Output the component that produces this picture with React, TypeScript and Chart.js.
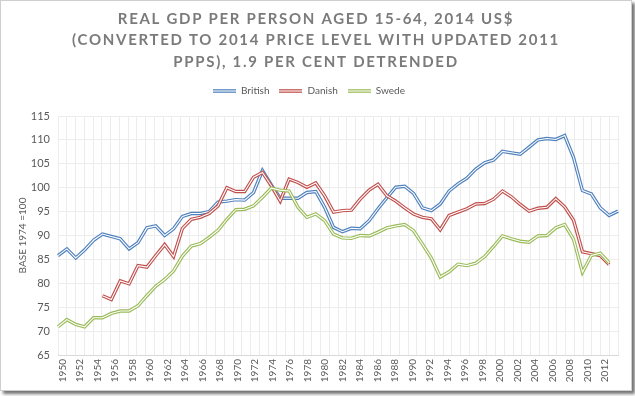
import React, { useEffect, useRef } from "react";
import { Chart, registerables } from "chart.js";

Chart.register(...registerables);

const years: string[] = [];
for (let y = 1950; y <= 2013; y++) years.push(String(y));

const titleLines = [
  "REAL GDP PER PERSON AGED 15-64, 2014 US$",
  "(CONVERTED TO 2014 PRICE LEVEL WITH UPDATED 2011",
  "PPPS), 1.9 PER CENT DETRENDED",
];

const seriesNames = ["British", "Danish", "Swede"];
const seriesColors = ["#4F81BD", "#C0504D", "#9BBB59"];

const british: (number | null)[] = [
  85.8, 87.2, 85.3, 87.0, 89.0, 90.3, 89.8, 89.3, 87.2, 88.5,
  91.6, 92.0, 90.0, 91.4, 94.0, 94.6, 94.6, 95.0, 97.0, 97.2,
  97.5, 97.4, 99.0, 103.6, 100.6, 97.8, 97.8, 97.8, 99.0, 99.2,
  95.9, 91.7, 90.8, 91.5, 91.4, 93.1, 95.6, 97.9, 100.1, 100.3,
  98.8, 95.8, 95.2, 96.6, 99.3, 100.8, 102.0, 103.9, 105.2, 105.8,
  107.6, 107.3, 107.0, 108.5, 110.0, 110.3, 110.1, 110.9, 106.3, 99.4,
  98.7, 95.8, 94.2, 95.1,
];

const danish: (number | null)[] = [
  null, null, null, null, null, 77.4, 76.6, 80.5, 79.9, 83.7,
  83.4, 85.8, 88.1, 85.6, 91.5, 93.4, 93.8, 94.6, 96.2, 100.0,
  99.2, 99.2, 102.2, 103.2, 100.4, 97.2, 101.8, 101.1, 100.1, 101.0,
  98.3, 94.9, 95.2, 95.3, 97.6, 99.5, 100.7, 98.3, 97.2, 95.8,
  94.5, 93.8, 93.5, 91.2, 94.2, 94.9, 95.6, 96.6, 96.7, 97.6,
  99.3, 98.1, 96.5, 95.1, 95.7, 95.9, 97.7, 96.0, 93.2, 86.6,
  86.2, 85.8, 83.9, null,
];

const swede: (number | null)[] = [
  70.9, 72.4, 71.4, 70.9, 72.8, 72.8, 73.7, 74.2, 74.2, 75.3,
  77.4, 79.4, 80.8, 82.6, 85.7, 87.8, 88.3, 89.6, 91.1, 93.4,
  95.4, 95.5, 96.2, 98.0, 99.9, 99.5, 99.3, 95.9, 93.8, 94.5,
  93.1, 90.3, 89.5, 89.4, 90.0, 89.9, 90.7, 91.6, 92.0, 92.3,
  91.0, 88.2, 85.3, 81.3, 82.4, 84.0, 83.7, 84.2, 85.6, 87.7,
  89.9, 89.3, 88.8, 88.6, 89.9, 90.0, 91.6, 92.3, 89.2, 82.3,
  85.8, 86.3, 84.3, null,
];

const yAxisTitle = "BASE 1974 =100";

const FONT = "Lato, 'Open Sans', sans-serif";
const TEXT = "#595959";

function legendSymbol(color: string): HTMLCanvasElement {
  const c = document.createElement("canvas");
  c.width = 23;
  c.height = 6;
  const g = c.getContext("2d")!;
  g.strokeStyle = color;
  g.lineWidth = 3.6;
  g.beginPath();
  g.moveTo(0, 3);
  g.lineTo(23, 3);
  g.stroke();
  g.strokeStyle = "#ffffff";
  g.lineWidth = 1.1;
  g.beginPath();
  g.moveTo(0, 3);
  g.lineTo(23, 3);
  g.stroke();
  return c;
}

export default function App() {
  const ref = useRef<HTMLCanvasElement | null>(null);

  useEffect(() => {
    if (!ref.current) return;
    const all = [british, danish, swede];
    const datasets: any[] = [];
    all.forEach((d, i) => {
      datasets.push({
        label: seriesNames[i],
        data: d,
        borderColor: seriesColors[i],
        backgroundColor: seriesColors[i],
        borderWidth: 3.4,
        pointRadius: 0,
        tension: 0,
        spanGaps: false,
        order: 10 - i * 2,
      });
      datasets.push({
        label: seriesNames[i] + "_inner",
        data: d,
        borderColor: "#ffffff",
        borderWidth: 1.1,
        pointRadius: 0,
        tension: 0,
        spanGaps: false,
        order: 9 - i * 2,
      });
    });

    const titlePlugin = {
      id: "spacedTitle",
      afterDraw(chart: any) {
        const ctx = chart.ctx as CanvasRenderingContext2D;
        ctx.save();
        ctx.font = `bold 15px ${FONT}`;
        (ctx as any).letterSpacing = "1.7px";
        ctx.fillStyle = "#7b7b7b";
        ctx.textAlign = "center";
        ctx.textBaseline = "middle";
        titleLines.forEach((l, i) => ctx.fillText(l, 316, 19 + i * 21.5));
        ctx.restore();
      },
    };

    const chart = new Chart(ref.current, {
      type: "line",
      data: { labels: years, datasets },
      plugins: [titlePlugin],
      options: {
        animation: false,
        responsive: false,
        maintainAspectRatio: false,
        layout: { padding: { top: 76, right: 14, left: 0, bottom: 4 } },
        plugins: {
          tooltip: { enabled: false },
          legend: {
            position: "top",
            labels: {
              usePointStyle: true,
              pointStyleWidth: 23,
              padding: 10,
              color: TEXT,
              font: { family: FONT, size: 10 },
              generateLabels: () =>
                seriesNames.map((n, i) => ({
                  text: n,
                  fillStyle: seriesColors[i],
                  strokeStyle: seriesColors[i],
                  lineWidth: 0,
                  pointStyle: legendSymbol(seriesColors[i]),
                  hidden: false,
                  datasetIndex: i * 2,
                  fontColor: TEXT,
                })),
            },
          },
        },
        scales: {
          spacer: {
            type: "category",
            position: "top",
            labels: years,
            grid: { display: false },
            border: { display: false },
            ticks: { display: false },
            afterFit: (s: any) => {
              s.height = 10;
            },
          },
          x: {
            type: "category",
            offset: true,
            grid: { offset: true, color: "#ececec", drawTicks: false },
            border: { color: "#d9d9d9" },
            ticks: {
              autoSkip: false,
              maxRotation: 90,
              minRotation: 90,
              padding: 4,
              color: TEXT,
              font: { family: FONT, size: 10 },
              callback: (_v: any, i: number) => (i % 2 === 0 ? years[i] : ""),
            },
            afterFit: (s: any) => {
              s.height = 32;
            },
          },
          y: {
            min: 65,
            max: 115,
            ticks: {
              stepSize: 5,
              color: TEXT,
              padding: 8,
              font: { family: FONT, size: 11 },
            },
            grid: { color: "#ececec", drawTicks: false },
            border: { display: false },
            title: {
              display: true,
              text: yAxisTitle,
              color: TEXT,
              font: { family: FONT, size: 10 },
              padding: { top: 17, bottom: 0 },
            },
            afterFit: (s: any) => {
              s.width = 58;
            },
          },
        },
      },
    });
    return () => chart.destroy();
  }, []);

  return (
    <>
      <div
        style={{
          position: "fixed",
          left: 0,
          top: 0,
          width: 630,
          height: 389,
          border: "1px solid #cfcfcf",
          boxShadow: "3px 3px 3px rgba(0,0,0,0.55)",
          background: "#ffffff",
        }}
      />
      <canvas
        ref={ref}
        width={632}
        height={391}
        style={{ position: "fixed", left: 0, top: 0, width: 632, height: 391 }}
      />
    </>
  );
}
